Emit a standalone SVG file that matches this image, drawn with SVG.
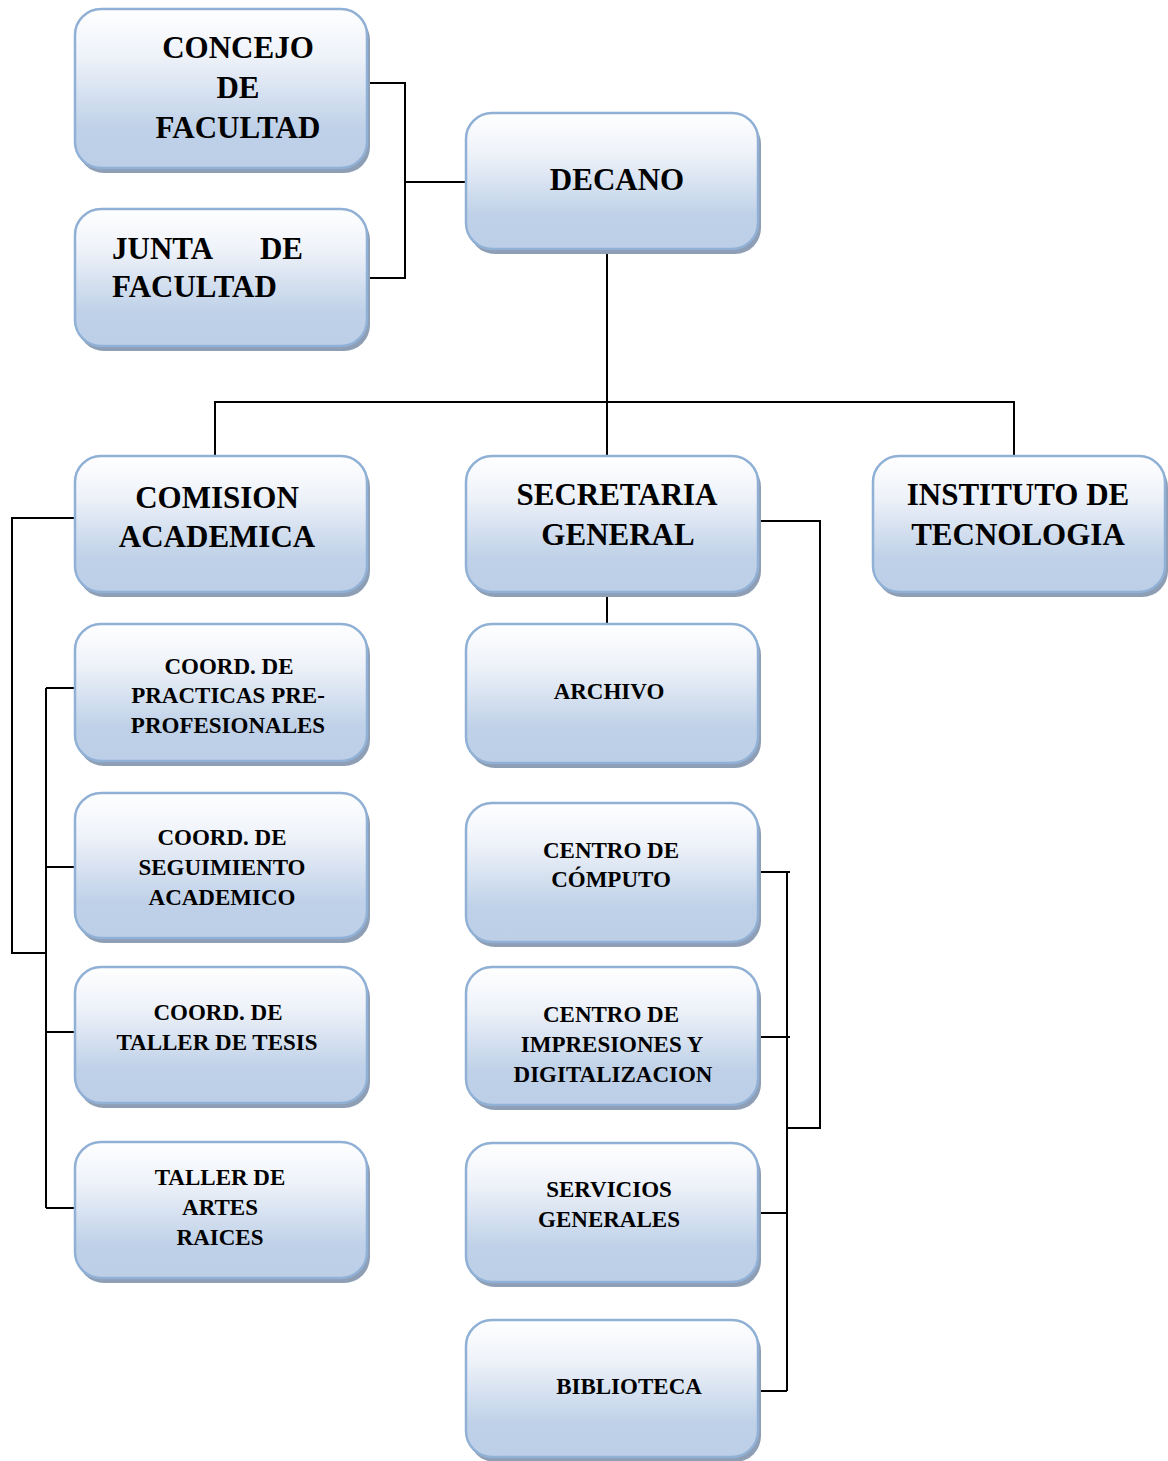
<svg xmlns="http://www.w3.org/2000/svg" width="1168" height="1461" viewBox="0 0 1168 1461">
<defs>
<linearGradient id="g" x1="0" y1="0" x2="0" y2="1">
<stop offset="0" stop-color="#ffffff"/>
<stop offset="0.3" stop-color="#eef2f9"/>
<stop offset="0.75" stop-color="#bfd1e8"/>
<stop offset="1" stop-color="#bccfe7"/>
</linearGradient>
</defs>
<style>
.sh{fill:#8e9eb4}
.bx{fill:url(#g);stroke:#90b0d6;stroke-width:2.5}
.t1{font-family:"Liberation Serif","Times New Roman",serif;font-weight:bold;font-size:31px;fill:#000;text-anchor:middle}
.t2{font-family:"Liberation Serif","Times New Roman",serif;font-weight:bold;font-size:23px;fill:#000;text-anchor:middle}
.c{fill:none;stroke:#000;stroke-width:2}
</style>
<rect width="1168" height="1461" fill="#fff"/>
<g id="connectors">
<polyline class="c" points="367,83 405,83 405,278 367,278"/>
<line class="c" x1="405" y1="182" x2="466" y2="182"/>
<line class="c" x1="607" y1="249" x2="607" y2="456"/>
<polyline class="c" points="215,456 215,402 1014,402 1014,456"/>
<line class="c" x1="607" y1="592" x2="607" y2="624"/>
<polyline class="c" points="75,518 12,518 12,953 46,953"/>
<line class="c" x1="46" y1="688" x2="46" y2="1208"/>
<line class="c" x1="46" y1="688" x2="75" y2="688"/>
<line class="c" x1="46" y1="867" x2="75" y2="867"/>
<line class="c" x1="46" y1="1032" x2="75" y2="1032"/>
<line class="c" x1="46" y1="1208" x2="75" y2="1208"/>
<polyline class="c" points="758,521 820,521 820,1128 787,1128"/>
<line class="c" x1="787" y1="872" x2="787" y2="1391"/>
<line class="c" x1="758" y1="872" x2="790" y2="872"/>
<line class="c" x1="758" y1="1037" x2="790" y2="1037"/>
<line class="c" x1="758" y1="1213" x2="787" y2="1213"/>
<line class="c" x1="758" y1="1391" x2="787" y2="1391"/>
</g>
<g id="concejo">
<rect class="sh" x="78" y="14" width="292" height="159" rx="26"/>
<rect class="bx" x="75" y="9" width="292" height="159" rx="26"/>
<text class="t1" x="238" y="58">CONCEJO</text>
<text class="t1" x="238" y="98">DE</text>
<text class="t1" x="238" y="138">FACULTAD</text>
</g>
<g id="junta">
<rect class="sh" x="78" y="214" width="292" height="137" rx="26"/>
<rect class="bx" x="75" y="209" width="292" height="137" rx="26"/>
<text class="t1" x="112" y="259" style="text-anchor:start">JUNTA</text>
<text class="t1" x="303" y="259" style="text-anchor:end">DE</text>
<text class="t1" x="112" y="297" style="text-anchor:start">FACULTAD</text>
</g>
<g id="decano">
<rect class="sh" x="469" y="118" width="292" height="136" rx="26"/>
<rect class="bx" x="466" y="113" width="292" height="136" rx="26"/>
<text class="t1" x="617" y="190">DECANO</text>
</g>
<g id="comision">
<rect class="sh" x="78" y="461" width="292" height="136" rx="26"/>
<rect class="bx" x="75" y="456" width="292" height="136" rx="26"/>
<text class="t1" x="217" y="508">COMISION</text>
<text class="t1" x="217" y="547">ACADEMICA</text>
</g>
<g id="secretaria">
<rect class="sh" x="469" y="461" width="292" height="136" rx="26"/>
<rect class="bx" x="466" y="456" width="292" height="136" rx="26"/>
<text class="t1" x="617" y="505">SECRETARIA</text>
<text class="t1" x="618" y="545">GENERAL</text>
</g>
<g id="instituto">
<rect class="sh" x="876" y="461" width="292" height="136" rx="26"/>
<rect class="bx" x="873" y="456" width="292" height="136" rx="26"/>
<text class="t1" x="1018" y="505">INSTITUTO DE</text>
<text class="t1" x="1018" y="545">TECNOLOGIA</text>
</g>
<g id="practicas">
<rect class="sh" x="78" y="629" width="292" height="137" rx="26"/>
<rect class="bx" x="75" y="624" width="292" height="137" rx="26"/>
<text class="t2" x="229" y="674">COORD. DE</text>
<text class="t2" x="228" y="703">PRACTICAS PRE-</text>
<text class="t2" x="228" y="733">PROFESIONALES</text>
</g>
<g id="archivo">
<rect class="sh" x="469" y="629" width="292" height="139" rx="26"/>
<rect class="bx" x="466" y="624" width="292" height="139" rx="26"/>
<text class="t2" x="609" y="699">ARCHIVO</text>
</g>
<g id="seguimiento">
<rect class="sh" x="78" y="798" width="292" height="145" rx="26"/>
<rect class="bx" x="75" y="793" width="292" height="145" rx="26"/>
<text class="t2" x="222" y="845">COORD. DE</text>
<text class="t2" x="222" y="875">SEGUIMIENTO</text>
<text class="t2" x="222" y="905">ACADEMICO</text>
</g>
<g id="tesis">
<rect class="sh" x="78" y="972" width="292" height="136" rx="26"/>
<rect class="bx" x="75" y="967" width="292" height="136" rx="26"/>
<text class="t2" x="218" y="1020">COORD. DE</text>
<text class="t2" x="217" y="1050">TALLER DE TESIS</text>
</g>
<g id="artes">
<rect class="sh" x="78" y="1147" width="292" height="136" rx="26"/>
<rect class="bx" x="75" y="1142" width="292" height="136" rx="26"/>
<text class="t2" x="220" y="1185">TALLER DE</text>
<text class="t2" x="220" y="1215">ARTES</text>
<text class="t2" x="220" y="1245">RAICES</text>
</g>
<g id="computo">
<rect class="sh" x="469" y="808" width="292" height="139" rx="26"/>
<rect class="bx" x="466" y="803" width="292" height="139" rx="26"/>
<text class="t2" x="611" y="858">CENTRO DE</text>
<text class="t2" x="611" y="887">CÓMPUTO</text>
</g>
<g id="impresiones">
<rect class="sh" x="469" y="972" width="292" height="138" rx="26"/>
<rect class="bx" x="466" y="967" width="292" height="138" rx="26"/>
<text class="t2" x="611" y="1022">CENTRO DE</text>
<text class="t2" x="612" y="1052">IMPRESIONES Y</text>
<text class="t2" x="613" y="1082">DIGITALIZACION</text>
</g>
<g id="servicios">
<rect class="sh" x="469" y="1148" width="292" height="139" rx="26"/>
<rect class="bx" x="466" y="1143" width="292" height="139" rx="26"/>
<text class="t2" x="609" y="1197">SERVICIOS</text>
<text class="t2" x="609" y="1227">GENERALES</text>
</g>
<g id="biblioteca">
<rect class="sh" x="469" y="1325" width="292" height="137" rx="26"/>
<rect class="bx" x="466" y="1320" width="292" height="137" rx="26"/>
<text class="t2" x="629" y="1394">BIBLIOTECA</text>
</g>
</svg>
